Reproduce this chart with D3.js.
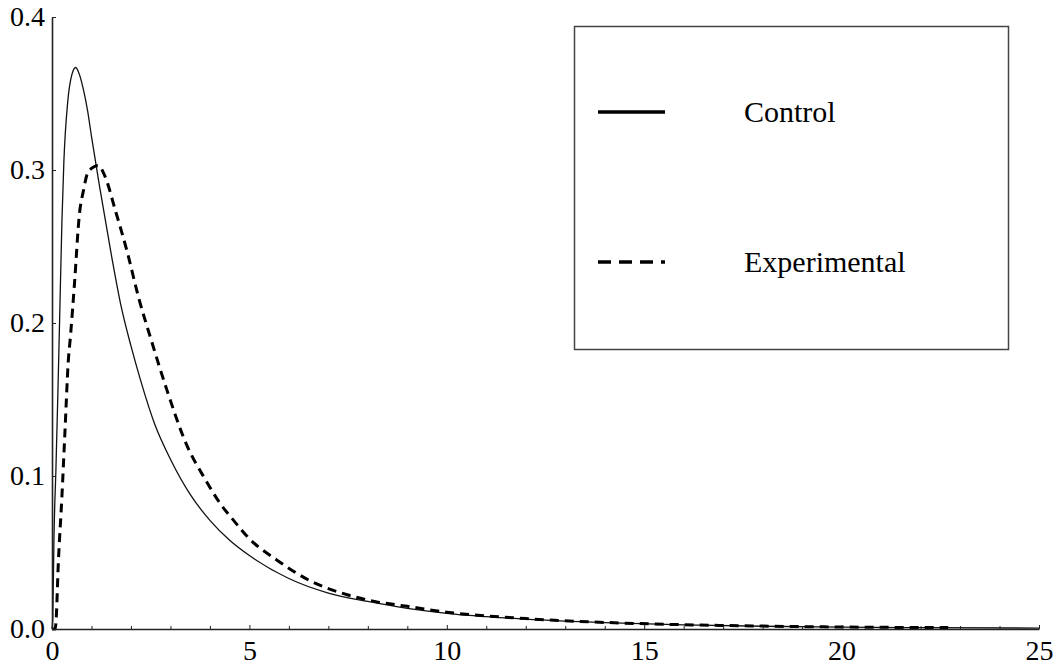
<!DOCTYPE html>
<html>
<head>
<meta charset="utf-8">
<script src="https://cdn.jsdelivr.net/npm/d3@7"></script>
<style>
  body { margin: 0; background: #fff; }
</style>
</head>
<body>
<script>
// data
var controlX = [0, 0.02, 0.05, 0.1, 0.15, 0.2, 0.25, 0.3, 0.4, 0.5, 0.6, 0.7, 0.8, 0.9, 1.0, 1.2, 1.5, 1.75, 2.0, 2.25, 2.6, 3.0, 3.5, 4.0, 4.5, 5.0, 6.0, 7.0, 8.0, 9.0, 10, 12, 14, 16, 18, 20, 22, 25];
var controlY = [0, 0.008, 0.06, 0.105, 0.155, 0.21, 0.265, 0.305, 0.345, 0.362, 0.367, 0.362, 0.352, 0.339, 0.322, 0.29, 0.245, 0.211, 0.185, 0.162, 0.134, 0.111, 0.088, 0.071, 0.058, 0.048, 0.033, 0.0235, 0.018, 0.0135, 0.0102, 0.0065, 0.0042, 0.0027, 0.0018, 0.0012, 0.0009, 0.0006];

var expX = [0, 0.08, 0.1, 0.16, 0.25, 0.33, 0.41, 0.47, 0.57, 0.69, 0.8, 0.9, 1.0, 1.17, 1.34, 1.6, 1.9, 2.2, 2.5, 2.9, 3.4, 3.9, 4.26, 4.6, 5.0, 5.7, 6.5, 7.5, 8.2, 9, 10, 12, 14, 16, 18, 20, 22.7];
var expY = [0, 0, 0.004, 0.043, 0.086, 0.13, 0.174, 0.192, 0.226, 0.27, 0.287, 0.298, 0.301, 0.303, 0.296, 0.274, 0.247, 0.216, 0.19, 0.157, 0.121, 0.097, 0.082, 0.071, 0.059, 0.045, 0.032, 0.0222, 0.0179, 0.0148, 0.011, 0.0068, 0.0043, 0.0028, 0.0019, 0.0013, 0.0009];

var xTicks = [0, 5, 10, 15, 20, 25];
var xMinor = [1, 2, 3, 4, 6, 7, 8, 9, 11, 12, 13, 14, 16, 17, 18, 19, 21, 22, 23, 24];
var yTicks = [0, 0.1, 0.2, 0.3, 0.4];
var yLabels = ["0.0", "0.1", "0.2", "0.3", "0.4"];

var seriesNames = ["Control", "Experimental"];

var serif = "'Liberation Serif', 'Times New Roman', Times, serif";

var w = 1062, h = 671;
var margin = {top: 17, right: 23, bottom: 42, left: 52};
var width = w - margin.left - margin.right,
    height = h - margin.top - margin.bottom;

var x = d3.scaleLinear().domain([0, 25]).range([0, width]);
var y = d3.scaleLinear().domain([0, 0.4]).range([height, 0]);

var svg = d3.select("body").append("svg")
    .attr("width", w)
    .attr("height", h);

svg.append("rect").attr("width", w).attr("height", h).attr("fill", "#fff");

var chart = svg.append("g")
    .attr("transform", "translate(" + margin.left + "," + margin.top + ")");

var line = d3.line()
    .x(function(d) { return x(d[0]); })
    .y(function(d) { return y(d[1]); })
    .curve(d3.curveMonotoneX);

var control = d3.zip(controlX, controlY);
var experimental = d3.zip(expX, expY);

// curves
chart.append("path")
    .datum(control)
    .attr("fill", "none")
    .attr("stroke", "#111")
    .attr("stroke-width", 1.3)
    .attr("d", line);

chart.append("path")
    .datum(experimental)
    .attr("fill", "none")
    .attr("stroke", "#000")
    .attr("stroke-width", 3)
    .attr("stroke-dasharray", "9,6")
    .attr("d", line);

// x axis, ticks point inward
var xAxis = chart.append("g")
    .attr("transform", "translate(0," + height + ")")
    .call(d3.axisBottom(x).tickValues(xTicks).tickSize(-4).tickSizeOuter(0).tickPadding(11).tickFormat(d3.format("d")));

chart.append("g")
    .attr("transform", "translate(0," + height + ")")
    .call(d3.axisBottom(x).tickValues(xMinor).tickSize(-3).tickSizeOuter(0).tickFormat(""))
    .select(".domain").remove();

var yAxis = chart.append("g")
    .call(d3.axisLeft(y).tickValues(yTicks).tickSize(-4).tickSizeOuter(0).tickPadding(7)
        .tickFormat(function(d, i) { return yLabels[i]; }));

[xAxis, yAxis].forEach(function(a) {
    a.attr("font-family", serif);
    a.selectAll("text").style("font-family", serif).style("font-size", "28px").attr("fill", "#000");
    a.select(".domain").attr("stroke", "#222").attr("stroke-width", 1.6);
});
chart.selectAll(".tick line").attr("stroke", "#222");

// legend box
var legend = svg.append("g");
legend.append("rect")
    .attr("x", 574.5).attr("y", 26.5)
    .attr("width", 434).attr("height", 323)
    .attr("fill", "#fff")
    .attr("stroke", "#444")
    .attr("stroke-width", 1.5);

var legendRows = legend.selectAll(".row")
    .data(seriesNames)
    .enter().append("g")
    .attr("class", "row")
    .attr("transform", function(d, i) { return "translate(0," + (i === 0 ? 112 : 262) + ")"; });

legendRows.append("line")
    .attr("x1", 598).attr("x2", 665)
    .attr("stroke", "#000")
    .attr("stroke-width", 3.5)
    .attr("stroke-dasharray", function(d, i) { return i === 0 ? null : "13,8"; });

legendRows.append("text")
    .attr("x", 744)
    .attr("y", 9.5)
    .style("font-family", serif)
    .style("font-size", "30px")
    .text(function(d) { return d; });
</script>
</body>
</html>
